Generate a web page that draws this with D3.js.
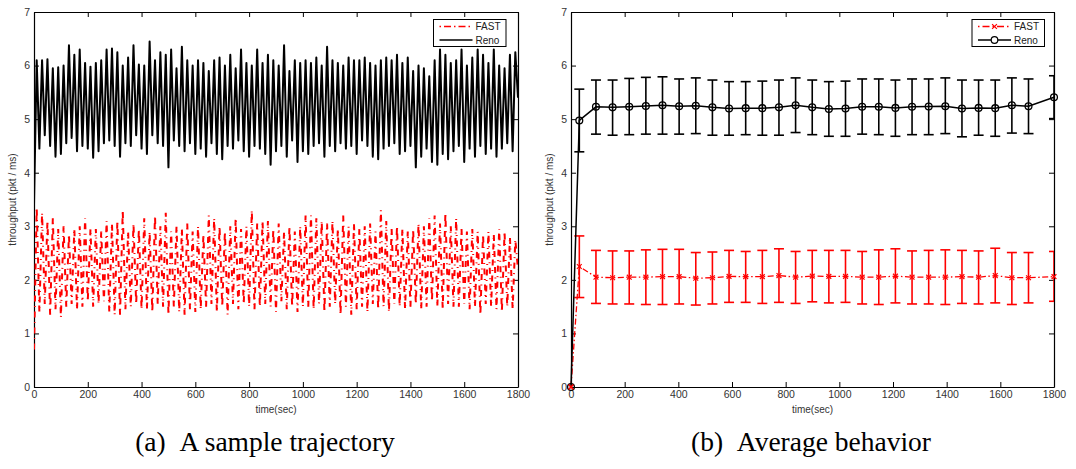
<!DOCTYPE html>
<html>
<head>
<meta charset="utf-8">
<script src="https://cdn.jsdelivr.net/npm/d3@7"></script>
<style>
body { margin: 0; background: #fff; }
svg { display: block; font-family: "Liberation Sans", Arial, Helvetica, sans-serif; }
.axis text { font-size: 10.5px; fill: #333; }
.axis line, .axis path { stroke: #000; }
.lbl { font-size: 10px; fill: #333; }
.leg { font-size: 10px; fill: #222; }
.cap { font-family: "Liberation Serif", "Times New Roman", serif; font-size: 27.5px; fill: #000; }
</style>
</head>
<body>
<script>
var xTicks = [0, 200, 400, 600, 800, 1000, 1200, 1400, 1600, 1800];
var yTicks = [0, 1, 2, 3, 4, 5, 6, 7];
var captions = ["(a)\u00a0\u00a0A sample trajectory", "(b)\u00a0\u00a0Average behavior"];

// (a) sample trajectory: turning points, one peak + one trough every 20 s
var stepSec = 20;
var renoStart = 3.4;
var renoPeaks = [
  6.1, 6.1, 6.12, 5.95, 5.97, 6.0, 6.38, 6.2, 6.3, 6.05,
  5.98, 6.05, 6.1, 6.3, 6.32, 6.25, 6.0, 6.15, 6.38, 6.02,
  6.0, 6.45, 6.1, 6.25, 6.2, 6.3, 5.95, 6.35, 6.1, 6.0,
  6.1, 6.05, 5.9, 6.1, 6.15, 6.0, 6.2, 5.95, 6.3, 6.05,
  6.0, 6.3, 6.05, 6.2, 6.1, 6.0, 6.38, 5.9, 6.1, 6.05,
  6.1, 6.05, 6.15, 6.0, 6.35, 6.1, 6.05, 6.0, 6.15, 6.1,
  6.1, 6.15, 6.05, 6.0, 6.1, 6.15, 6.1, 6.2, 6.05, 6.15,
  5.9, 6.0, 5.95, 5.8, 6.1, 6.3, 6.2, 6.05, 6.1, 6.3,
  6.0, 6.15, 6.3, 6.2, 6.05, 6.3, 6.0, 5.95, 6.2, 6.25
];
var renoTroughs = [
  4.45, 4.7, 4.5, 4.3, 4.35, 4.55, 4.65, 4.4, 4.5, 4.45,
  4.28, 4.4, 4.55, 4.6, 4.5, 4.3, 4.55, 4.5, 4.7, 4.45,
  4.35, 4.7, 4.55, 4.5, 4.1, 4.6, 4.5, 4.4, 4.55, 4.35,
  4.45, 4.3, 4.55, 4.35, 4.25, 4.5, 4.45, 4.6, 4.4, 4.3,
  4.5, 4.45, 4.35, 4.15, 4.4, 4.5, 4.3, 4.6, 4.2, 4.4,
  4.35, 4.5, 4.55, 4.3, 4.5, 4.4, 4.55, 4.45, 4.5, 4.35,
  4.6, 4.5, 4.3, 4.25, 4.45, 4.5, 4.55, 4.35, 4.4, 4.5,
  4.1, 4.3, 4.45, 4.2, 4.15, 4.35, 4.25, 4.4, 4.5, 4.2,
  4.45, 4.3, 4.5, 4.35, 4.45, 4.3, 4.45, 4.55, 4.4, 5.4
];
var fastStart = 0.7;
var fastPeaks = [
  3.35, 3.25, 3.1, 3.15, 2.95, 3.0, 2.85, 2.95, 3.0, 3.15,
  2.95, 2.95, 2.9, 3.1, 3.05, 3.1, 3.3, 2.9, 3.05, 2.95,
  3.15, 2.9, 3.2, 3.0, 3.25, 2.9, 3.0, 2.95, 3.05, 2.9,
  3.0, 2.85, 3.2, 3.15, 3.0, 2.9, 3.0, 3.15, 2.95, 3.0,
  3.3, 3.05, 3.1, 3.1, 2.95, 3.05, 2.9, 3.0, 2.9, 3.0,
  3.2, 3.2, 3.15, 3.1, 3.05, 3.1, 2.95, 3.2, 3.0, 3.05,
  2.95, 3.0, 3.05, 2.9, 3.3, 3.1, 2.95, 3.0, 2.95, 2.9,
  2.95, 3.05, 3.0, 3.15, 3.2, 3.05, 3.25, 3.0, 3.15, 2.95,
  2.9, 2.95, 2.9, 2.85, 2.9, 2.85, 2.95, 2.9, 2.8, 2.75
];
var fastTroughs = [
  1.4, 1.55, 1.35, 1.45, 1.3, 1.5, 1.55, 1.45, 1.5, 1.6,
  1.5, 1.55, 1.6, 1.4, 1.35, 1.35, 1.45, 1.5, 1.55, 1.45,
  1.45, 1.4, 1.55, 1.5, 1.35, 1.5, 1.4, 1.35, 1.45, 1.4,
  1.45, 1.5, 1.55, 1.4, 1.5, 1.35, 1.55, 1.45, 1.55, 1.5,
  1.45, 1.5, 1.55, 1.5, 1.4, 1.6, 1.45, 1.5, 1.4, 1.5,
  1.5, 1.45, 1.55, 1.4, 1.5, 1.55, 1.35, 1.5, 1.35, 1.45,
  1.5, 1.4, 1.55, 1.45, 1.5, 1.4, 1.55, 1.5, 1.45, 1.5,
  1.55, 1.45, 1.5, 1.6, 1.5, 1.45, 1.55, 1.5, 1.5, 1.55,
  1.45, 1.5, 1.35, 1.55, 1.5, 1.45, 1.4, 1.5, 1.45, 2.2
];

// (b) average behaviour with error bars
var avgTime = [0, 31, 93, 155, 217, 279, 341, 403, 465, 527, 589, 651, 713, 775, 837, 899,
  961, 1023, 1085, 1147, 1209, 1271, 1333, 1395, 1457, 1519, 1581, 1643, 1705, 1800];
var renoMean = [0, 4.975, 5.23, 5.22, 5.23, 5.245, 5.26, 5.24, 5.25, 5.22, 5.2, 5.205, 5.205, 5.22, 5.26, 5.22,
  5.19, 5.2, 5.23, 5.23, 5.21, 5.23, 5.235, 5.24, 5.2, 5.21, 5.205, 5.26, 5.24, 5.41];
var renoHi = [0, 5.56, 5.73, 5.73, 5.76, 5.78, 5.79, 5.75, 5.77, 5.73, 5.7, 5.7, 5.71, 5.73, 5.77, 5.73,
  5.7, 5.71, 5.75, 5.75, 5.73, 5.75, 5.75, 5.77, 5.73, 5.73, 5.73, 5.77, 5.75, 5.81];
var renoLo = [0, 4.39, 4.72, 4.7, 4.71, 4.72, 4.72, 4.72, 4.73, 4.7, 4.7, 4.71, 4.7, 4.7, 4.75, 4.71,
  4.68, 4.68, 4.72, 4.71, 4.68, 4.71, 4.71, 4.73, 4.67, 4.7, 4.68, 4.74, 4.73, 5.01];
var fastMean = [0, 2.25, 2.05, 2.04, 2.05, 2.05, 2.06, 2.06, 2.03, 2.04, 2.065, 2.06, 2.06, 2.08, 2.05, 2.07,
  2.065, 2.065, 2.05, 2.05, 2.07, 2.05, 2.05, 2.05, 2.06, 2.05, 2.08, 2.04, 2.04, 2.06];
var fastHi = [0, 2.82, 2.55, 2.54, 2.54, 2.56, 2.57, 2.57, 2.51, 2.52, 2.55, 2.53, 2.55, 2.58, 2.53, 2.55,
  2.55, 2.55, 2.53, 2.56, 2.58, 2.54, 2.55, 2.56, 2.55, 2.54, 2.59, 2.51, 2.51, 2.53];
var fastLo = [0, 1.67, 1.56, 1.55, 1.55, 1.54, 1.54, 1.55, 1.53, 1.55, 1.58, 1.58, 1.56, 1.58, 1.56, 1.59,
  1.57, 1.58, 1.55, 1.54, 1.57, 1.55, 1.55, 1.54, 1.56, 1.55, 1.57, 1.54, 1.57, 1.6];

var W = 1076, H = 469;
var plotTop = 12, plotBottom = 387;
var FASTDASH = "6,4.5,1,4.5";

var svg = d3.select("body").append("svg").attr("width", W).attr("height", H);

function trajectory(start, peaks, troughs) {
  var pts = [{t: 0, v: start}];
  peaks.forEach(function(p, i) {
    pts.push({t: i * stepSec + stepSec / 2, v: p});
    pts.push({t: (i + 1) * stepSec, v: troughs[i]});
  });
  return pts;
}

function makeAxes(left, right, id) {
  var x = d3.scaleLinear().domain([0, 1800]).range([left, right]);
  var y = d3.scaleLinear().domain([0, 7]).range([plotBottom, plotTop]);
  var g = svg.append("g");

  g.append("clipPath").attr("id", id).append("rect")
    .attr("x", left).attr("y", plotTop).attr("width", right - left).attr("height", plotBottom - plotTop);

  g.append("g").attr("class", "axis").attr("transform", "translate(0," + plotBottom + ")")
    .call(d3.axisBottom(x).tickValues(xTicks).tickSize(-5).tickSizeOuter(0).tickPadding(4).tickFormat(d3.format("d")));
  g.append("g").attr("class", "axis").attr("transform", "translate(0," + plotTop + ")")
    .call(d3.axisTop(x).tickValues(xTicks).tickSize(-5).tickSizeOuter(0).tickFormat(""));
  g.append("g").attr("class", "axis").attr("transform", "translate(" + left + ",0)")
    .call(d3.axisLeft(y).tickValues(yTicks).tickSize(-5).tickSizeOuter(0).tickPadding(4).tickFormat(d3.format("d")));
  g.append("g").attr("class", "axis").attr("transform", "translate(" + right + ",0)")
    .call(d3.axisRight(y).tickValues(yTicks).tickSize(-5).tickSizeOuter(0).tickFormat(""));
  g.selectAll(".axis .domain").attr("stroke-width", 1.2);

  g.append("text").attr("class", "lbl").attr("x", (left + right) / 2).attr("y", 413)
    .attr("text-anchor", "middle").text("time(sec)");
  g.append("text").attr("class", "lbl")
    .attr("transform", "translate(" + (left - 18) + "," + ((plotTop + plotBottom) / 2) + ") rotate(-90)")
    .attr("text-anchor", "middle").attr("font-size", "9.5px").text("throughput (pkt / ms)");
  return {x: x, y: y, g: g};
}

function legend(g, x0, withMarkers) {
  var box = g.append("g");
  box.append("rect").attr("x", x0).attr("y", 19.5).attr("width", 72.5).attr("height", 27)
    .attr("fill", "#fff").attr("stroke", "#000").attr("stroke-width", 1);
  var lx0 = x0 + 6, lx1 = x0 + 39, mx = (lx0 + lx1) / 2;
  box.append("line").attr("x1", lx0).attr("x2", lx1).attr("y1", 26.5).attr("y2", 26.5)
    .attr("stroke", "red").attr("stroke-width", 1.4).attr("stroke-dasharray", "1.5,3,7,3");
  box.append("line").attr("x1", lx0).attr("x2", lx1).attr("y1", 40).attr("y2", 40)
    .attr("stroke", "#000").attr("stroke-width", 1.4);
  if (withMarkers) {
    box.append("path").attr("d", xMark(mx, 26.5)).attr("stroke", "red").attr("stroke-width", 1.2);
    box.append("circle").attr("cx", mx).attr("cy", 40).attr("r", 3.3)
      .attr("fill", "#fff").attr("stroke", "#000").attr("stroke-width", 1.2);
  }
  box.append("text").attr("class", "leg").attr("x", lx1 + 3).attr("y", 30).text("FAST");
  box.append("text").attr("class", "leg").attr("x", lx1 + 3).attr("y", 43.5).text("Reno");
}

function xMark(cx, cy) {
  var s = 2.4;
  return "M" + (cx - s) + "," + (cy - s) + "L" + (cx + s) + "," + (cy + s) +
    "M" + (cx - s) + "," + (cy + s) + "L" + (cx + s) + "," + (cy - s);
}

// ---------- panel (a)
var a = makeAxes(34, 518, "clipA");
var lineA = d3.line().x(function(d) { return a.x(d.t); }).y(function(d) { return a.y(d.v); });
a.g.append("path").attr("d", lineA(trajectory(fastStart, fastPeaks, fastTroughs)))
  .attr("fill", "none").attr("stroke", "red").attr("stroke-width", 2)
  .attr("stroke-dasharray", FASTDASH).attr("clip-path", "url(#clipA)");
a.g.append("path").attr("d", lineA(trajectory(renoStart, renoPeaks, renoTroughs)))
  .attr("fill", "none").attr("stroke", "#000").attr("stroke-width", 2)
  .attr("stroke-linejoin", "round").attr("clip-path", "url(#clipA)");
legend(a.g, 433.5, false);

// ---------- panel (b)
var b = makeAxes(571, 1054, "clipB");
var avg = avgTime.map(function(t, i) {
  return {t: t, rm: renoMean[i], rh: renoHi[i], rl: renoLo[i], fm: fastMean[i], fh: fastHi[i], fl: fastLo[i]};
});

function errorBars(g, data, hiKey, loKey, colour) {
  var eb = g.append("g").attr("stroke", colour).attr("stroke-width", 1.6).attr("clip-path", "url(#clipB)");
  data.filter(function(d) { return d.t > 0; }).forEach(function(d) {
    var cx = b.x(d.t), yh = b.y(d[hiKey]), yl = b.y(d[loKey]);
    eb.append("line").attr("x1", cx).attr("x2", cx).attr("y1", yh).attr("y2", yl);
    eb.append("line").attr("x1", cx - 5).attr("x2", cx + 5).attr("y1", yh).attr("y2", yh);
    eb.append("line").attr("x1", cx - 5).attr("x2", cx + 5).attr("y1", yl).attr("y2", yl);
  });
}

errorBars(b.g, avg, "fh", "fl", "red");
errorBars(b.g, avg, "rh", "rl", "#000");

var lineF = d3.line().x(function(d) { return b.x(d.t); }).y(function(d) { return b.y(d.fm); });
var lineR = d3.line().x(function(d) { return b.x(d.t); }).y(function(d) { return b.y(d.rm); });

b.g.append("path").attr("d", lineF(avg)).attr("fill", "none").attr("stroke", "red")
  .attr("stroke-width", 1.3).attr("stroke-dasharray", "6,2.5,1.5,2.5");
b.g.selectAll(".fx").data(avg).enter().append("path").attr("class", "fx")
  .attr("d", function(d) { return xMark(b.x(d.t), b.y(d.fm)); })
  .attr("stroke", "red").attr("stroke-width", 1.2);

b.g.append("path").attr("d", lineR(avg)).attr("fill", "none").attr("stroke", "#000")
  .attr("stroke-width", 1.5);
b.g.selectAll(".rc").data(avg).enter().append("circle").attr("class", "rc")
  .attr("cx", function(d) { return b.x(d.t); }).attr("cy", function(d) { return b.y(d.rm); })
  .attr("r", 3.4).attr("fill", "none").attr("stroke", "#000").attr("stroke-width", 1.3);
// red x drawn again over the t=0 circle
b.g.append("path").attr("d", xMark(b.x(0), b.y(0))).attr("stroke", "red").attr("stroke-width", 1.4);
legend(b.g, 972, true);

// ---------- captions
svg.selectAll(".cap").data(captions).enter().append("text").attr("class", "cap")
  .attr("x", function(d, i) { return i === 0 ? 265 : 811; }).attr("y", 451)
  .attr("text-anchor", "middle").text(function(d) { return d; });
</script>
</body>
</html>
